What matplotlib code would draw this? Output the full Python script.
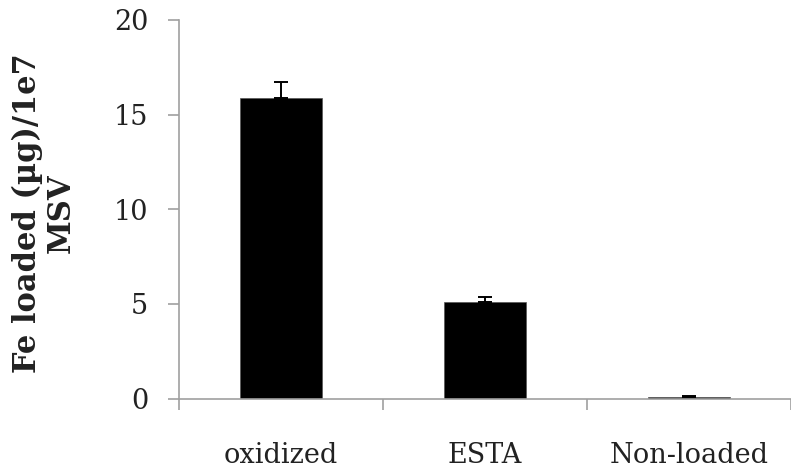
import matplotlib
matplotlib.use("Agg")
import matplotlib.pyplot as plt

categories = ["oxidized", "ESTA", "Non-loaded"]
fe_loaded = [15.87, 5.08, 0.10]
fe_err = [0.83, 0.29, 0.05]
yticks = [0, 5, 10, 15, 20]

plt.rcParams['font.family'] = ['DejaVu Serif']

fig = plt.figure(figsize=(7.91, 4.73), dpi=100)
ax = fig.add_axes([179/791, 1-398.5/473, 1-179/791, (398.5-20)/473])

x = list(range(len(categories)))
ax.bar(x, fe_loaded, width=0.40, color='black', edgecolor='#555555', linewidth=0.5,
       yerr=[[0]*len(fe_err), fe_err], capsize=5,
       error_kw=dict(ecolor='black', elinewidth=1.4, capthick=1.4))

ax.set_ylim(0, 20)
ax.set_xlim(-0.5, -0.5 + (791-179)/207)
ax.set_yticks(yticks)
ax.set_yticklabels([str(v) for v in yticks], fontsize=19.5, color='#222222')

# ticks at category boundaries, labels at centres
ax.set_xticks([-0.5, 0.5, 1.5, 2.5])
ax.set_xticklabels([])
ax.set_xticks(x, minor=True)
ax.set_xticklabels(categories, minor=True, fontsize=19.5, color='#222222')
ax.tick_params(axis='x', which='minor', length=0, pad=31)
ax.tick_params(axis='x', which='major', length=8, width=1.2, color='#a0a0a0', direction='out')
ax.tick_params(axis='y', length=8, width=1.2, color='#a0a0a0', direction='out', pad=14)

for s in ['top', 'right']:
    ax.spines[s].set_visible(False)
for s in ['left', 'bottom']:
    ax.spines[s].set_color('#a0a0a0')
    ax.spines[s].set_linewidth(1.2)

fig.text(44/791, 1-213/473, "Fe loaded (µg)/1e7\nMSV", rotation=90, ha='center', va='center',
         multialignment='center', fontsize=22, fontweight='bold', linespacing=1.1, color='#222222')

fig.savefig("out.png", dpi=100)
